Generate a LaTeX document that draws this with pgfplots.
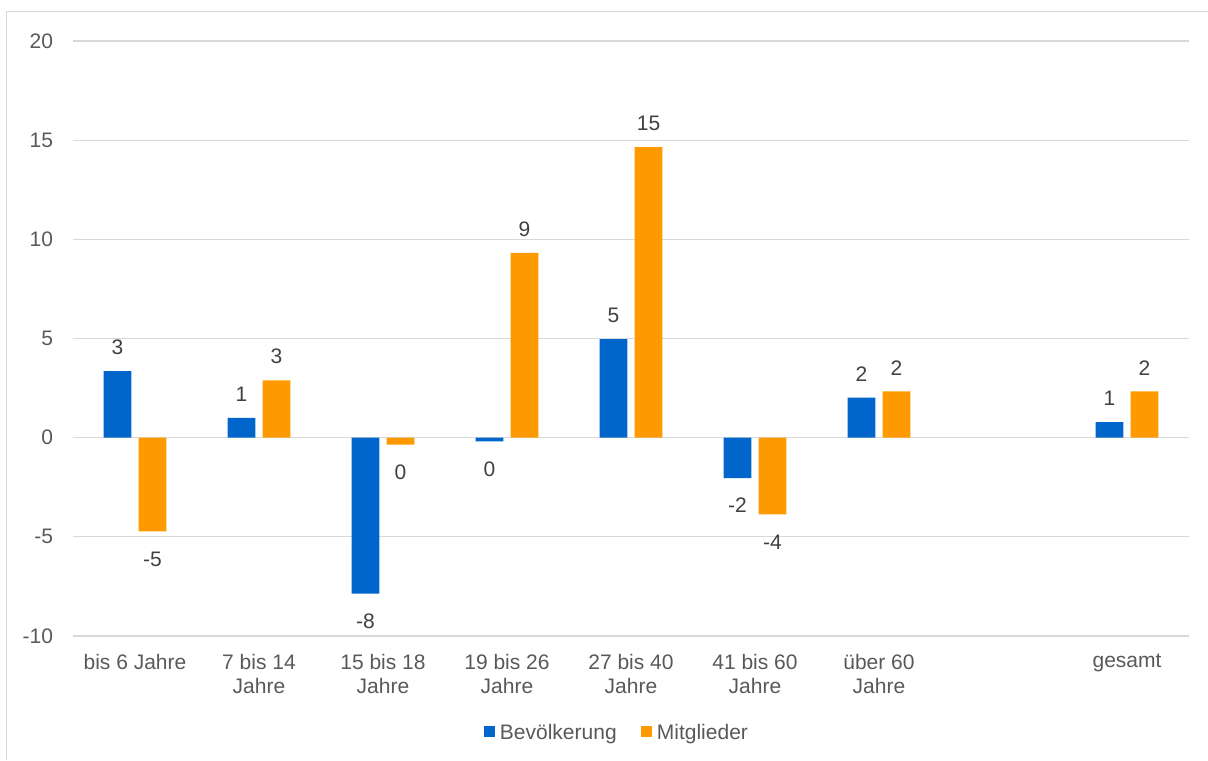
\documentclass[border=0pt]{standalone}
\usepackage{pgfplots}
\pgfplotsset{compat=1.18}
\usepackage{fontspec}
\setmainfont{Liberation Sans}

\definecolor{blau}{HTML}{0066CC}
\definecolor{orange}{HTML}{FF9900}
\definecolor{gitter}{HTML}{D9D9D9}
\definecolor{achse}{HTML}{595959}
\definecolor{wert}{HTML}{404040}

\newcommand{\schrift}{\fontsize{10.5}{12}\selectfont}

% Werte-Beschriftung: #1 = Anker (south/north), #2 = horizontale Verschiebung
\pgfplotsset{
  wertlabel/.style 2 args={
    point meta=explicit symbolic,
    nodes near coords={\pgfplotspointmeta},
    every node near coord/.append style={font=\schrift, text=wert,
      anchor=#1, xshift=#2, inner xsep=0pt, inner ysep=8pt, text height=9.2pt},
  },
  balken/.style={ybar, draw=none, bar width=0.2234},
}

\begin{document}
\begin{tikzpicture}
\path[use as bounding box] (0,0) rectangle (604pt,380pt);
% Rahmen des Diagrammbereichs (rechts/unten abgeschnitten)
\draw[gitter, line width=0.6pt] (3.35pt,0pt) -- (3.35pt,374.35pt) -- (604pt,374.35pt);
\begin{axis}[
  at={(36.5pt,62pt)}, anchor=south west,
  scale only axis, width=558pt, height=297.5pt,
  xmin=-0.5, xmax=8.5, ymin=-10, ymax=20,
  axis line style={draw=none},
  tick style={draw=none},
  ymajorgrids, major grid style={gitter, line width=0.6pt},
  ytick={-10,-5,0,5,10,15,20},
  yticklabels={-10,-5,0,5,10,15,20},
  xtick={0,1,2,3,4,5,6,8},
  xticklabels={bis 6 Jahre, 7 bis 14\\Jahre, 15 bis 18\\Jahre, 19 bis 26\\Jahre,
    27 bis 40\\Jahre, 41 bis 60\\Jahre, über 60\\Jahre, gesamt},
  yticklabel style={font=\schrift, text=achse, inner sep=0pt, xshift=-9.8pt},
  xticklabel style={font=\schrift, text=achse, align=center, inner sep=0pt, yshift=-9pt},
  legend columns=2,
  legend style={at={(0.4866,-0.1639)}, anchor=center, draw=none, fill=none,
    column sep=2.4pt, nodes={inner sep=0pt, text=achse, font=\schrift},
    /tikz/every even column/.append style={column sep=12.2pt}},
  legend image code/.code={\fill[#1] (0pt,-1.75pt) rectangle (5.5pt,3.75pt);},
]
% Bevölkerung
\addplot[balken, fill=blau, bar shift=-0.141, wertlabel={south}{-8.75pt}]
  coordinates {(0,3.36) [3] (1,1.00) [1] (4,4.97) [5] (6,2.02) [2] (8,0.79) [1]};
\addlegendentry{Bevölkerung}
\addplot[balken, fill=blau, bar shift=-0.141, wertlabel={north}{-8.75pt}, forget plot]
  coordinates {(2,-7.86) [-8] (3,-0.19) [0] (5,-2.04) [-2]};
% Mitglieder
\addplot[balken, fill=orange, bar shift=0.141, wertlabel={south}{8.75pt}]
  coordinates {(1,2.89) [3] (3,9.32) [9] (4,14.65) [15] (6,2.33) [2] (8,2.33) [2]};
\addlegendentry{Mitglieder}
\addplot[balken, fill=orange, bar shift=0.141, wertlabel={north}{8.75pt}, forget plot]
  coordinates {(0,-4.72) [-5] (2,-0.35) [0] (5,-3.87) [-4]};
\end{axis}
\end{tikzpicture}
\end{document}
